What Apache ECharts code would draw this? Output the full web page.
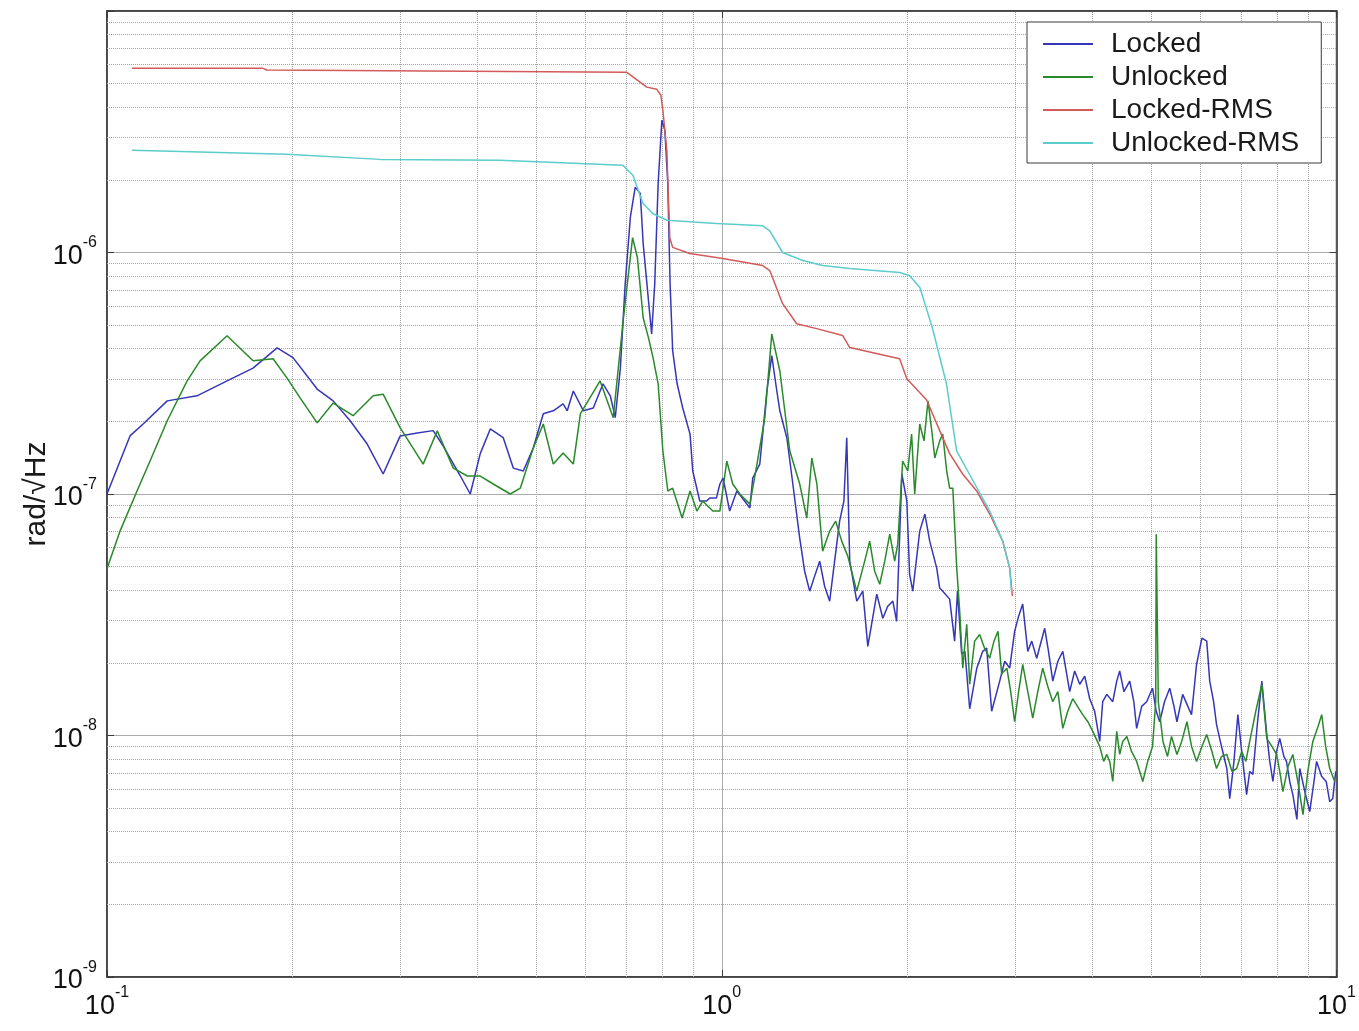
<!DOCTYPE html>
<html>
<head>
<meta charset="utf-8">
<script src="https://cdn.jsdelivr.net/npm/echarts@6/dist/echarts.min.js"></script>
<style>
  html, body { margin: 0; padding: 0; background: #ffffff; }
  #chart { width: 1359px; height: 1031px; }
</style>
</head>
<body>
<div id="chart"></div>
<script>
// Phase noise spectra (rad/√Hz) of the locked and unlocked loop, plus cumulative RMS.
const FONT = '"Liberation Sans", Arial, Helvetica, sans-serif';

const seriesNames = ['Locked', 'Unlocked', 'Locked-RMS', 'Unlocked-RMS'];
const seriesColors = ['#3636b8', '#2a892a', '#d25a5a', '#5ccccc'];

// decade ticks
const xTicks = [0.1, 1, 10];
const yTicks = [1e-9, 1e-8, 1e-7, 1e-6, 1e-5];

// minor (2..9) grid positions
const xMinorGrid = [0.2, 0.3, 0.4, 0.5, 0.6, 0.7, 0.8, 0.9, 2, 3, 4, 5, 6, 7, 8, 9];
const yMinorGrid = [
  2e-9, 3e-9, 4e-9, 5e-9, 6e-9, 7e-9, 8e-9, 9e-9,
  2e-8, 3e-8, 4e-8, 5e-8, 6e-8, 7e-8, 8e-8, 9e-8,
  2e-7, 3e-7, 4e-7, 5e-7, 6e-7, 7e-7, 8e-7, 9e-7,
  2e-6, 3e-6, 4e-6, 5e-6, 6e-6, 7e-6, 8e-6, 9e-6
];

// [frequency Hz, amplitude in nrad/√Hz]
const lockedPsd = [
  [0.1,100],[0.109,174],[0.1145,195],[0.1253,243],[0.1401,255],[0.1568,294],[0.1728,332],[0.1891,403],
  [0.2007,367],[0.2197,272],[0.2333,243],[0.2486,201],[0.265,161],[0.2813,121],[0.2999,174],[0.3196,179],
  [0.3393,183],[0.3523,158],[0.3755,119],[0.3898,100],[0.4047,147],[0.4202,186],[0.4411,171],[0.458,128],
  [0.4755,124.5],[0.4936,155],[0.5125,215],[0.532,221],[0.552,236],[0.5606,221],[0.5735,267],[0.5955,221],
  [0.618,227],[0.641,286],[0.659,254],[0.671,207],[0.684,332],[0.6965,743],[0.710,1397],[0.723,1862],
  [0.737,1757],[0.745,1089],[0.760,632],[0.769,460],[0.778,743],[0.788,1933],[0.799,3530],[0.808,3210],
  [0.817,1933],[0.824,743],[0.832,392],[0.846,286],[0.864,227],[0.888,177],[0.897,124.5],[0.921,93.5],
  [0.945,93.5],[0.956,96.2],[0.980,96.2],[0.993,110],[1.005,116.5],[1.030,85],[1.058,102.9],[1.080,96.2],
  [1.111,87.5],[1.123,116.5],[1.153,133],[1.184,267],[1.206,374],[1.229,267],[1.243,221],[1.276,171],
  [1.305,110],[1.339,65.7],[1.364,47.9],[1.390,39.6],[1.416,45.7],[1.443,52.7],[1.470,41.5],[1.498,36],
  [1.526,52.7],[1.555,77.2],[1.580,93.5],[1.597,171],[1.615,52.7],[1.658,36],[1.696,39.6],[1.728,23.4],
  [1.787,38.5],[1.828,30.6],[1.862,34.3],[1.898,36],[1.925,29.7],[1.963,121],[2.000,93.5],[2.021,46.5],
  [2.045,39.6],[2.099,70.2],[2.14,82.6],[2.179,63.8],[2.237,49.3],[2.262,40.8],[2.288,39.6],[2.348,36.7],
  [2.392,24.6],[2.418,39.6],[2.456,21.7],[2.486,22.3],[2.531,12.9],[2.599,19.0],[2.657,22.3],[2.697,23.0],
  [2.748,12.6],[2.832,16.8],[2.886,20.3],[2.940,19.0],[2.995,27.0],[3.04,31.2],[3.087,35.0],[3.146,22.3],
  [3.193,24.6],[3.253,20.9],[3.352,27.8],[3.40,22.3],[3.455,16.8],[3.521,20.3],[3.587,22.3],[3.681,15.2],
  [3.750,18.5],[3.822,16.3],[3.894,17.6],[3.967,14.2],[4.042,12.6],[4.119,9.45],[4.165,13.8],[4.23,14.8],
  [4.325,13.8],[4.39,16.8],[4.439,18.5],[4.51,15.2],[4.609,16.8],[4.68,13.8],[4.73,10.7],[4.82,13.2],
  [4.91,13.8],[5.02,15.7],[5.09,12.6],[5.157,11.4],[5.25,13.8],[5.354,15.7],[5.44,13.2],[5.50,11.4],
  [5.62,14.8],[5.73,13.2],[5.81,12.2],[5.92,19.7],[6.04,25.3],[6.15,24.6],[6.219,16.8],[6.31,13.8],
  [6.38,11.1],[6.50,9.0],[6.63,7.3],[6.703,5.48],[6.81,7.81],[6.91,12.2],[7.01,8.59],[7.14,5.69],
  [7.224,7.10],[7.31,6.90],[7.44,11.4],[7.56,16.8],[7.70,10.1],[7.787,7.81],[7.88,6.45],[7.99,8.59],
  [8.084,9.73],[8.21,8.19],[8.29,7.81],[8.392,6.45],[8.49,5.69],[8.62,4.49],[8.713,7.3],[8.88,5.86],
  [9.045,4.84],[9.19,6.45],[9.28,7.81],[9.46,6.77],[9.62,6.45],[9.749,5.32],[9.86,5.48],[9.97,7.10]
];

const unlockedPsd = [
  [0.1,49.0],[0.105,70.2],[0.1119,102.9],[0.1175,137],[0.1253,201],[0.135,294],[0.1417,356],[0.1568,452],
  [0.1728,356],[0.1863,363],[0.1963,302],[0.2061,250],[0.2197,197],[0.2333,238],[0.2514,211],[0.271,255],
  [0.2813,259],[0.2999,188],[0.3268,133],[0.3445,182.5],[0.3658,128],[0.3855,118.7],[0.4047,118.7],[0.4249,110],
  [0.4529,100],[0.4702,105.7],[0.4936,155],[0.5125,195],[0.532,133],[0.552,148],[0.5735,133],[0.589,215],
  [0.634,294],[0.666,207],[0.692,537],[0.716,1153],[0.729,953],[0.745,537],[0.760,443],[0.773,367],
  [0.788,286],[0.802,151],[0.817,102.9],[0.832,105.7],[0.862,79.5],[0.888,102.9],[0.911,85],[0.931,93.5],
  [0.967,85],[0.993,85],[1.019,137],[1.042,110],[1.070,100],[1.111,90.8],[1.141,133],[1.175,207],
  [1.206,460],[1.243,323],[1.290,151],[1.339,110],[1.375,79.5],[1.401,141],[1.428,110],[1.459,58],
  [1.498,70.2],[1.532,77.2],[1.567,63.8],[1.603,55.3],[1.658,39.6],[1.708,52.7],[1.740,63.8],[1.773,47.9],
  [1.807,42.3],[1.841,52.7],[1.876,68.2],[1.911,52.7],[1.933,62],[1.969,137],[2.007,124.5],[2.036,177],
  [2.06,100],[2.099,195],[2.133,166],[2.165,243],[2.196,182.5],[2.221,141],[2.262,166],[2.288,177],
  [2.322,124.5],[2.348,105.7],[2.376,105.7],[2.411,49.3],[2.438,32.7],[2.466,19.0],[2.503,28.9],[2.531,16.3],
  [2.578,24.6],[2.627,26.2],[2.676,23.0],[2.728,20.9],[2.772,24.6],[2.814,27.0],[2.853,18.0],[2.909,19.0],
  [2.951,15.2],[2.995,11.4],[3.04,15.2],[3.087,19.7],[3.146,15.2],[3.205,11.8],[3.266,15.2],[3.327,19.0],
  [3.39,16.0],[3.455,13.8],[3.521,15.2],[3.587,10.7],[3.654,12.6],[3.723,14.2],[3.79,13.2],[3.865,12.2],
  [3.94,11.4],[4.013,10.4],[4.119,9.01],[4.18,7.81],[4.23,8.35],[4.276,7.81],[4.325,6.45],[4.39,10.4],
  [4.439,8.35],[4.49,9.45],[4.56,9.9],[4.64,8.59],[4.73,7.81],[4.84,6.45],[4.93,7.81],[5.02,9.01],
  [5.08,13.8],[5.09,68.2],[5.13,13.8],[5.22,9.45],[5.31,8.19],[5.39,9.91],[5.50,8.35],[5.60,9.45],
  [5.71,11.4],[5.81,9.01],[5.92,7.81],[6.04,9.01],[6.15,10.1],[6.27,8.59],[6.38,7.30],[6.50,8.19],
  [6.63,8.35],[6.76,7.10],[6.88,7.30],[7.01,8.59],[7.12,7.81],[7.224,9.45],[7.39,12.6],[7.56,16.3],
  [7.70,9.73],[7.85,9.01],[7.99,8.35],[8.084,7.10],[8.18,5.86],[8.34,7.45],[8.49,8.35],[8.65,6.45],
  [8.82,4.70],[8.98,7.10],[9.15,9.45],[9.33,10.9],[9.46,12.2],[9.60,9.01],[9.749,7.30],[9.93,6.45]
];

// cumulative RMS, integrated from 3 Hz downward
const lockedRms = [
  [0.1098,5800],[0.179,5800],[0.182,5700],[0.70,5580],[0.755,4840],[0.784,4740],[0.796,4480],[0.802,3880],
  [0.814,2650],[0.823,1150],[0.832,1050],[0.887,990],[1.004,944],[1.166,883],[1.197,842],[1.256,614],
  [1.324,507],[1.427,484],[1.573,453],[1.615,404],[1.947,363],[2.0,300],[2.154,245],[2.262,183],
  [2.348,147],[2.465,121],[2.598,103],[2.728,82.6],[2.864,63.8],[2.94,49.3],[2.97,37.8]
];

const unlockedRms = [
  [0.1098,2650],[0.196,2550],[0.278,2430],[0.4355,2410],[0.69,2300],[0.717,2090],[0.744,1600],[0.772,1450],
  [0.814,1360],[0.981,1320],[1.166,1290],[1.197,1230],[1.256,1000],[1.354,926],[1.46,883],[1.615,858],
  [1.947,826],[2.02,803],[2.10,716],[2.20,489],[2.32,286],[2.41,151],[2.58,110],[2.728,85],
  [2.864,63.8],[2.94,49.3],[2.96,39.6]
];

const NANO = 1e-9;
const toRad = pts => pts.map(p => [p[0], p[1] * NANO]);

const xMin = xTicks[0], xMax = xTicks[xTicks.length - 1];
const yMin = yTicks[0], yMax = yTicks[yTicks.length - 1];

function powerLabel(v) {
  const e = Math.round(Math.log10(v));
  return '{b|10}{s|' + e + '}';
}

const richPow = {
  b: { fontSize: 27, fontFamily: FONT, color: '#111', padding: [8, 0, 0, 0] },
  s: { fontSize: 16, fontFamily: FONT, color: '#111', verticalAlign: 'top' }
};

// dotted grid at the 2..9 positions of every decade
const minorGridSegments = xMinorGrid.map(x => ({ coords: [[x, yMin], [x, yMax]] }))
  .concat(yMinorGrid.map(y => ({ coords: [[xMin, y], [xMax, y]] })));

const chart = echarts.init(document.getElementById('chart'), null, { renderer: 'canvas' });

const psdLine = (name, data, idx, z) => ({
  name: name,
  type: 'line',
  data: toRad(data),
  showSymbol: false,
  symbol: 'none',
  z: z,
  lineStyle: { color: seriesColors[idx], width: 1.5 },
  itemStyle: { color: seriesColors[idx] },
  emphasis: { disabled: true }
});

const AXIS_COLOR = '#3a3a3a';
const tickStyle = {
  axisTick: { show: true, inside: true, length: 7, lineStyle: { color: AXIS_COLOR, width: 1 } }
};

// box-side copies of the axes: ticks only
const mirrorX = Object.assign({
  type: 'log', logBase: 10, min: xMin, max: xMax, position: 'top',
  axisLine: { show: true, onZero: false, lineStyle: { color: AXIS_COLOR, width: 1.5 } },
  axisLabel: { show: false }, splitLine: { show: false }
}, tickStyle);
const mirrorY = Object.assign({
  type: 'log', logBase: 10, min: yMin, max: yMax, position: 'right',
  axisLine: { show: true, onZero: false, lineStyle: { color: AXIS_COLOR, width: 1.5 } },
  axisLabel: { show: false }, splitLine: { show: false }
}, tickStyle);

chart.setOption({
  animation: false,
  backgroundColor: '#ffffff',
  grid: {
    left: 107, right: 22, top: 11, bottom: 54,
    show: true, borderColor: AXIS_COLOR, borderWidth: 1.5, backgroundColor: '#ffffff'
  },
  legend: {
    data: seriesNames,
    orient: 'vertical',
    left: 1027, top: 22,
    padding: [8, 22, 6, 16],
    icon: 'rect',
    itemWidth: 50, itemHeight: 2, itemGap: 5,
    backgroundColor: '#ffffff',
    borderColor: AXIS_COLOR, borderWidth: 1,
    textStyle: { fontFamily: FONT, fontSize: 28, lineHeight: 28, color: '#1a1a1a', padding: [0, 0, 0, 13] }
  },
  xAxis: [
    Object.assign({
      type: 'log', logBase: 10, min: xMin, max: xMax,
      axisLine: { show: true, onZero: false, lineStyle: { color: AXIS_COLOR, width: 1.5 } },
      splitLine: { show: true, lineStyle: { color: '#ababab', width: 1, type: 'solid' } },
      axisLabel: { margin: 8, formatter: powerLabel, rich: richPow }
    }, tickStyle),
    mirrorX
  ],
  yAxis: [
    Object.assign({
      type: 'log', logBase: 10, min: yMin, max: yMax,
      name: 'rad/√Hz', nameLocation: 'middle', nameRotate: 90, nameGap: 55,
      nameMoveOverlap: false,
      nameTextStyle: { fontFamily: FONT, fontSize: 30, color: '#1a1a1a' },
      axisLine: { show: true, onZero: false, lineStyle: { color: AXIS_COLOR, width: 1.5 } },
      splitLine: { show: true, lineStyle: { color: '#ababab', width: 1, type: 'solid' } },
      axisLabel: {
        margin: 10,
        formatter: v => (Math.round(Math.log10(v)) === -5 ? '' : powerLabel(v)),
        rich: richPow
      }
    }, tickStyle),
    mirrorY
  ],
  series: [
    {
      name: 'minor-grid',
      type: 'lines',
      coordinateSystem: 'cartesian2d',
      silent: true,
      z: 1,
      polyline: false,
      lineStyle: { type: 'dotted', color: '#a6a6a6', width: 1, opacity: 1, curveness: 0 },
      emphasis: { disabled: true },
      data: minorGridSegments
    },
    psdLine(seriesNames[0], lockedPsd, 0, 3),
    psdLine(seriesNames[1], unlockedPsd, 1, 4),
    psdLine(seriesNames[2], lockedRms, 2, 5),
    psdLine(seriesNames[3], unlockedRms, 3, 6)
  ]
});
</script>
</body>
</html>
